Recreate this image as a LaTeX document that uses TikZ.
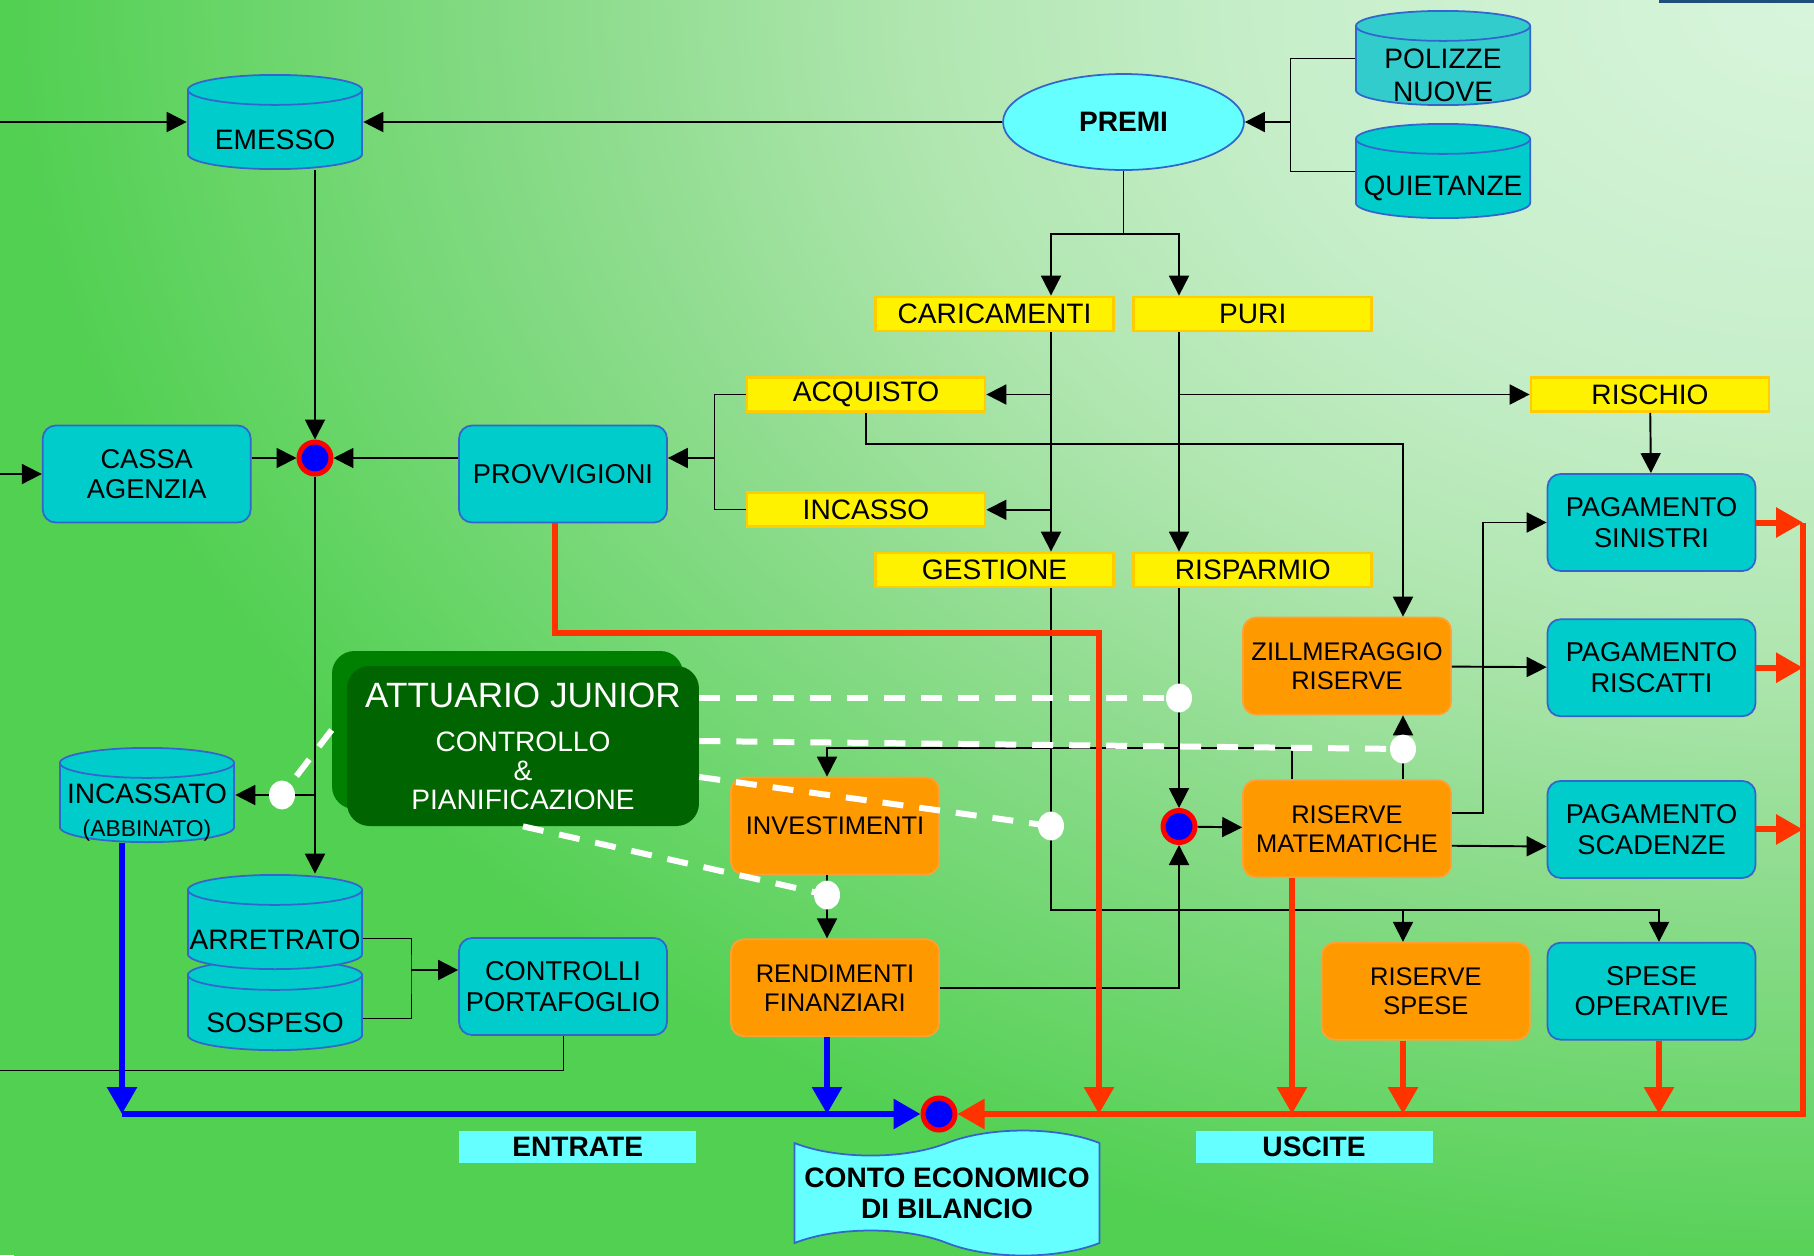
\documentclass[tikz,border=0pt]{standalone}
\usepackage{fontspec}
\setmainfont{Liberation Sans}
\usepackage{tikz}
\usetikzlibrary{shapes.geometric,shapes.symbols,arrows.meta,positioning,calc}
\definecolor{teal0}{HTML}{00CCCC}
\definecolor{teal1}{HTML}{33CCCC}
\definecolor{edge}{HTML}{3366CC}
\definecolor{sky}{HTML}{66FFFF}
\definecolor{amber}{HTML}{FF9900}
\definecolor{amberedge}{HTML}{FFA033}
\definecolor{goldedge}{HTML}{FFCC00}
\definecolor{forest}{HTML}{008000}
\definecolor{pine}{HTML}{006400}
\definecolor{outred}{HTML}{FF3300}
\definecolor{inblue}{HTML}{0000FF}
\definecolor{navy0}{HTML}{1F4E79}
\definecolor{bg0}{HTML}{D8F5DC}
\definecolor{bg1}{HTML}{C5EEC8}
\definecolor{bg2}{HTML}{B0E6B0}
\definecolor{bg3}{HTML}{8EDC8E}
\definecolor{bg4}{HTML}{6CD66C}
\definecolor{bg5}{HTML}{52D052}
\pgfdeclareradialshading{glow}{\pgfpoint{0bp}{0bp}}{color(0bp)=(bg0); color(8bp)=(bg1); color(12.5bp)=(bg2); color(17bp)=(bg3); color(21.5bp)=(bg4); color(25bp)=(bg5); color(50bp)=(bg5)}
\tikzstyle{block}=[rectangle, rounded corners=0.26cm, draw=edge, line width=1pt, fill=teal0, minimum width=4.16cm, minimum height=1.94cm, align=center, font=\fontsize{15.5}{17.5}\selectfont]
\tikzstyle{oblock}=[block, fill=amber, draw=amberedge, font=\fontsize{14.5}{16.5}\selectfont]
\tikzstyle{tag}=[rectangle, draw=goldedge, line width=1.6pt, fill=yellow, minimum width=4.76cm, minimum height=0.68cm, inner sep=0pt, font=\fontsize{16}{18}\selectfont]
\tikzset{db/.style={rectangle, minimum width=3.52cm, minimum height=1.92cm, inner sep=0pt,
  path picture={
    \draw[edge, line width=1pt, fill=#1]
      ($(path picture bounding box.north west)+(0.5pt,-0.3cm-0.5pt)$)
      -- ($(path picture bounding box.south west)+(0.5pt,0.3cm+0.5pt)$)
      arc[start angle=180, end angle=360, x radius=1.76cm-0.5pt, y radius=0.3cm]
      -- ($(path picture bounding box.north east)+(-0.5pt,-0.3cm-0.5pt)$)
      arc[start angle=0, end angle=180, x radius=1.76cm-0.5pt, y radius=0.3cm] -- cycle;
    \draw[edge, line width=1pt]
      ($(path picture bounding box.north west)+(0.5pt,-0.3cm-0.5pt)$)
      arc[start angle=180, end angle=360, x radius=1.76cm-0.5pt, y radius=0.3cm];
  }},
  db/.default=teal0}
\tikzstyle{dbtext}=[yshift=-0.35cm, align=center, font=\fontsize{16}{18.5}\selectfont]
\tikzstyle{hub}=[circle, draw=red, fill=blue, line width=0.1cm, minimum size=0.64cm, inner sep=0pt]
\tikzstyle{knot}=[ellipse, fill=white, minimum width=0.52cm, minimum height=0.58cm, inner sep=0pt]
\tikzstyle{sumtag}=[rectangle, fill=sky, minimum width=4.74cm, minimum height=0.64cm, inner sep=0pt, font=\bfseries\fontsize{16}{18}\selectfont]
\tikzstyle{arrow}=[line width=1.1pt, -{Triangle[length=0.4cm,width=0.4cm]}]
\tikzstyle{flowin}=[inblue, line width=0.12cm, -{Triangle[length=0.54cm,width=0.58cm]}]
\tikzstyle{flowout}=[outred, line width=0.12cm, -{Triangle[length=0.54cm,width=0.58cm]}]
\tikzstyle{link}=[white, line width=0.12cm, dash pattern=on 0.42cm off 0.32cm]
\begin{document}
\begin{tikzpicture}[x=0.02cm,y=-0.02cm]
\useasboundingbox (0,0) rectangle (1814,1255);
\begin{scope}
\clip (0,0) rectangle (1814,1255);
\fill[bg5] (0,0) rectangle (1814,1255);
\shade[shading=glow] (14,-1300) rectangle (3614,1300);
\end{scope}
\fill[navy0] (1659,0) rectangle (1814,3);

\node (emesso) [db, label={[dbtext]center:EMESSO}] at (275,122) {};
\node (premi) [ellipse, draw=edge, line width=1pt, fill=sky, minimum width=4.82cm, minimum height=1.92cm, font=\bfseries\fontsize{16}{18}\selectfont] at (1123.5,122) {PREMI};
\node (polizze) [db=teal1, label={[dbtext]center:POLIZZE\\NUOVE}] at (1443,58) {};
\node (quietanze) [db, label={[dbtext]center:QUIETANZE}] at (1443,171) {};

\node (caricamenti) [tag] at (994.5,314) {CARICAMENTI};
\node (puri) [tag, right=0.35cm of caricamenti] {PURI};
\node (acquisto) [tag] at (866,394.5) {ACQUISTO};
\node (incasso) [tag, below=1.57cm of acquisto] {INCASSO};
\node (rischio) [tag] at (1650,394.5) {RISCHIO};
\node (gestione) [tag] at (994.5,570) {GESTIONE};
\node (risparmio) [tag, right=0.35cm of gestione] {RISPARMIO};

\node (cassa) [block] at (146.7,474) {CASSA\\AGENZIA};
\node (provvigioni) [block] at (563,474) {PROVVIGIONI};
\node (sinistri) [block] at (1651.5,522.5) {PAGAMENTO\\SINISTRI};
\node (riscatti) [block, below=0.93cm of sinistri] {PAGAMENTO\\RISCATTI};
\node (scadenze) [block, below=1.26cm of riscatti] {PAGAMENTO\\SCADENZE};
\node (speseop) [block, below=1.26cm of scadenze] {SPESE\\OPERATIVE};
\node (rspese) [oblock, left=0.32cm of speseop] {RISERVE\\SPESE};
\node (zill) [oblock] at (1347,666) {ZILLMERAGGIO\\RISERVE};
\node (rmat) [oblock, below=1.28cm of zill] {RISERVE\\MATEMATICHE};
\node (invest) [oblock] at (835,826) {INVESTIMENTI};
\node (rend) [oblock, below=1.26cm of invest] {RENDIMENTI\\FINANZIARI};
\node (controlli) [block] at (563,986.5) {CONTROLLI\\PORTAFOGLIO};

\node (incassato) [db, label={[dbtext]center:INCASSATO\\{\fontsize{13}{14}\selectfont(ABBINATO)}}] at (147,795) {};
\node (sospeso) [db, minimum height=1.84cm, label={[dbtext]center:SOSPESO}] at (275,1005) {};
\node (arretrato) [db, label={[dbtext]center:ARRETRATO}] at (275,922) {};

\node (attb) [rectangle, rounded corners=0.45cm, fill=forest, minimum width=7.02cm, minimum height=3.16cm] at (507.5,730) {};
\node (attf) [rectangle, rounded corners=0.45cm, fill=pine, minimum width=7.04cm, minimum height=3.2cm, text=white, align=center, font=\fontsize{16}{16.4}\selectfont] at (523,746) {{\fontsize{20}{22}\selectfont ATTUARIO JUNIOR}\\[9pt]CONTROLLO\\\&\\PIANIFICAZIONE};

\node (jn1) [hub] at (315,458) {};
\node (jn2) [hub] at (1179,826.5) {};
\node (jn3) [hub] at (939,1114) {};

\node (conto) [tape, tape bend top=in and out, tape bend bottom=out and in, tape bend height=0.5cm, draw=edge, line width=1pt, fill=sky, minimum width=6.1cm, minimum height=2.5cm, align=center, font=\bfseries\fontsize{16}{17.6}\selectfont] at (947,1193) {CONTO ECONOMICO\\DI BILANCIO};
\node (entrate) [sumtag] at (577.7,1147) {ENTRATE};
\node (uscite) [sumtag] at (1314,1147) {USCITE};

\coordinate (d1) at (282,795);
\coordinate (d2) at (1179,698);
\coordinate (d3) at (1403,749);
\coordinate (d4) at (1051,826);
\coordinate (d5) at (827,895);
\coordinate (pq) at (1290,122);
\coordinate (sp) at (1123.5,234);
\coordinate (ai) at (714,458);
\coordinate (as) at (411,970);
\coordinate (rx) at (1099,633);
\coordinate (rr) at (1803,1114);
\coordinate (bin) at (122,1114);
\coordinate (west1) at (0,122);
\coordinate (west2) at (0,474);
\coordinate (west3) at (0,1070);
\coordinate (rmx) at ($(rmat.south)+(-55,0)$);
\coordinate (sox) at ($(speseop.south)+(7.5,0)$);

\draw[arrow] (west1) -- (emesso.west);
\draw[arrow] (west2) -- (cassa.west);
\draw[arrow] (premi) -- (emesso.east);
\draw (polizze.west) -| (pq) |- (quietanze.west);
\draw[arrow] (pq) -- (premi.east);
\draw (premi) -- (sp);
\draw[arrow] (sp) -| (caricamenti.north -| d4);
\draw[arrow] (sp) -| (puri.north -| d2);
\draw[arrow] (caricamenti.south -| d4) -- (gestione.north -| d4);
\draw[arrow] (acquisto.east -| d4) -- (acquisto.east);
\draw[arrow] (incasso.east -| d4) -- (incasso.east);
\draw[arrow] (puri.south -| d2) -- (risparmio.north -| d2);
\draw[arrow] (rischio.west -| d2) -- (rischio.west);
\draw[arrow] (rischio) -- (sinistri);
\draw (acquisto.west) -| (ai) |- (incasso.west);
\draw[arrow] (ai) -- (ai -| provvigioni.east);
\draw[arrow] (provvigioni.west |- jn1) -- (jn1);
\draw[arrow] (cassa.east |- jn1) -- (jn1);
\draw[arrow] (emesso.south -| jn1) -- (jn1);
\draw[arrow] (jn1) -- (jn1 |- arretrato.north);
\draw[arrow] (jn1 |- incassato.east) -- (incassato.east);
\draw ($(arretrato.east)+(0,16)$) -| (as) |- ($(sospeso.east)+(0,13)$);
\draw[arrow] (as) -- (as -| controlli.west);
\draw (controlli.south) |- (west3);
\draw[arrow] (acquisto.south) -- ++(0,31) -| (zill.north -| d3);
\draw[arrow] (risparmio.south -| jn2) -- (jn2);
\draw[arrow] (rend.east) -| (jn2);
\draw[arrow] (jn2) -- (rmat);
\draw[arrow] (rmat.north -| d3) -- (zill.south -| d3);
\draw[arrow] ($(rmat.north)+(-55,0)$) -- ++(0,-31) -| (invest.north -| d5);
\draw[arrow] (invest.south -| d5) -- (rend.north -| d5);
\draw[arrow] (zill) -- (riscatti);
\draw[arrow] ($(rmat.east)+(0,-16)$) -| ($(sinistri.west)+(-64,0)$) -- (sinistri.west);
\draw[arrow] ($(rmat.east)+(0,17)$) -- ($(scadenze.west)+(0,17)$);
\draw[arrow] (gestione.south -| d4) |- ($(speseop.north)+(7.5,-32)$) -- ($(speseop.north)+(7.5,0)$);
\draw[arrow] ($(rspese.north -| d3)+(0,-32)$) -- (rspese.north -| d3);

\draw[flowin] (incassato.south -| bin) -- (bin);
\draw[flowin] (bin) -- (jn3);
\draw[flowin] (rend.south -| d5) -- (d5 |- jn3);
\draw[flowout] ($(provvigioni.south)+(-8,0)$) |- (rx) -- (rx |- jn3);
\draw[flowout] (rmx) -- (rmx |- jn3);
\draw[flowout] (rspese.south -| d3) -- (d3 |- jn3);
\draw[flowout] (sox) -- (sox |- jn3);
\draw[flowout] (sinistri.east) -- (sinistri.east -| rr);
\draw[flowout] (riscatti.east) -- (riscatti.east -| rr);
\draw[flowout] (scadenze.east) -- (scadenze.east -| rr);
\draw[flowout] (sinistri.east -| rr) -- (rr) -- (jn3);

\draw[link] (attf.east |- d2) -- (d2);
\draw[link] ($(attf.east)+(0,-5)$) -- (d3);
\draw[link] ($(attf.east)+(0,31)$) -- (d4);
\draw[link] (attf.south) -- (d5);
\draw[link] (attb.west) -- (d1);

\node (w1) [knot] at (d1) {};
\node (w2) [knot] at (d2) {};
\node (w3) [knot] at (d3) {};
\node (w4) [knot] at (d4) {};
\node (w5) [knot] at (d5) {};
\end{tikzpicture}
\end{document}
